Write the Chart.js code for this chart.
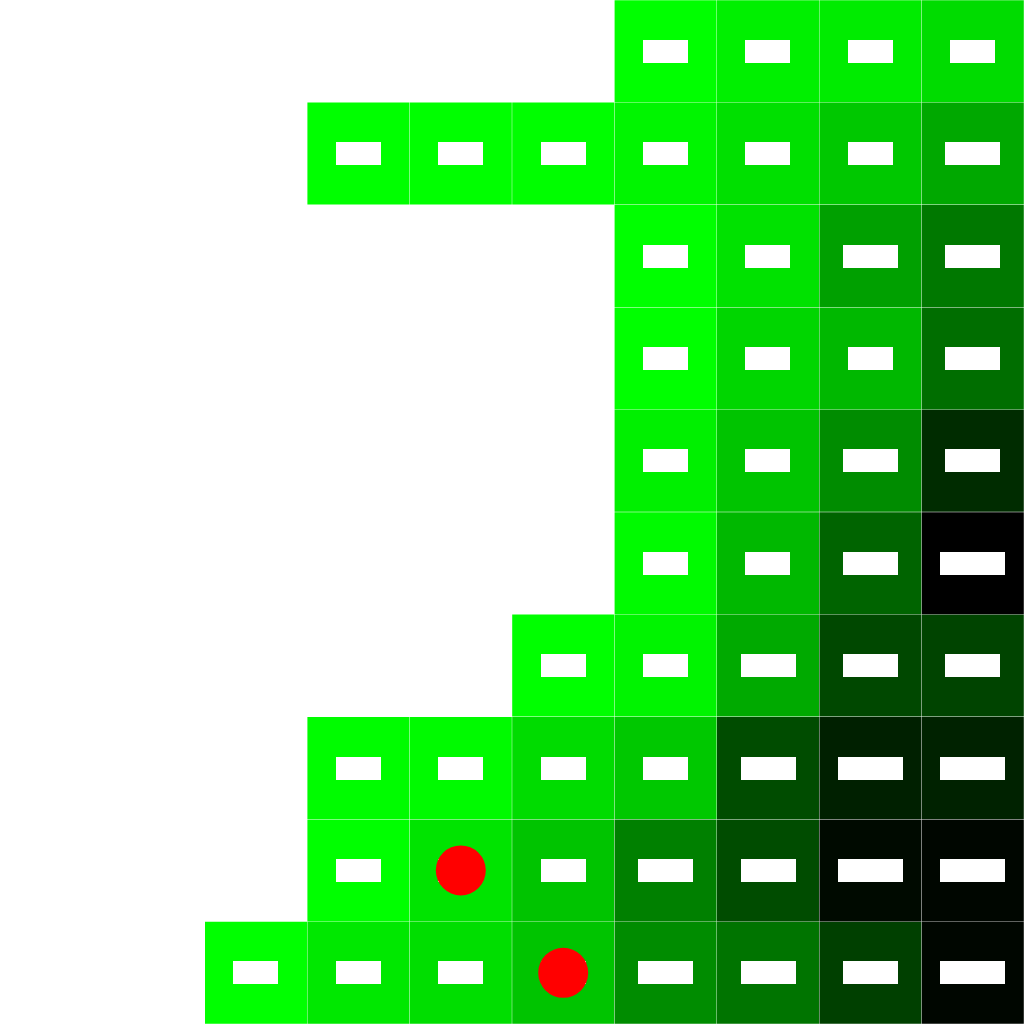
<!DOCTYPE html>
<html>
<head>
<meta charset="utf-8">
<script src="https://cdn.jsdelivr.net/npm/chart.js@4/dist/chart.umd.min.js"></script>
<style>
  html, body { margin: 0; padding: 0; background: #ffffff; }
  #wrap { width: 1024px; height: 1024px; position: relative; }
</style>
</head>
<body>
<div id="wrap"><canvas id="c"></canvas></div>
<script>
// ---- data ----
const columns = ['0', '1', '2', '3', '4', '5', '6', '7', '8', '9'];
const row0 = [null, null, null, null, null, null, 260, 335, 358, 469];
const row1 = [null, null, null, 260, 260, 265, 308, 438, 656, 1125];
const row2 = [null, null, null, null, null, null, 260, 424, 1285, 2522];
const row3 = [null, null, null, null, null, null, 260, 518, 859, 2985];
const row4 = [null, null, null, null, null, null, 335, 702, 1802, 9053];
const row5 = [null, null, null, null, null, null, 283, 859, 3531, 19000];
const row6 = [null, null, null, null, null, 260, 313, 1087, 5666, 6053];
const row7 = [null, null, null, 274, 283, 469, 656, 5286, 11100, 10720];
const row8 = [null, null, null, 260, 410, 702, 2205, 5286, 16070, 17180];
const row9 = [null, null, 260, 383, 455, 702, 1802, 2698, 6474, 17180];
const gridRows = [row0, row1, row2, row3, row4, row5, row6, row7, row8, row9];
const markerCols = ['4', '5'];
const markerRows = [8, 9];
const scaleMin = 260;
const scaleMax = 19000;

// ---- helpers ----
function colorFor(v) {
  const t = Math.log(v / scaleMin) / Math.log(scaleMax / scaleMin);
  const g = Math.round(255 * (1 - Math.min(1, Math.max(0, t))));
  return 'rgb(0,' + g + ',0)';
}

const datasets = gridRows.map((vals, r) => ({
  type: 'bar',
  label: 'row ' + r,
  data: vals.map(v => (v == null ? null : [r + 0.002, r + 0.998])),
  values: vals,
  backgroundColor: vals.map(v => (v == null ? 'rgba(0,0,0,0)' : colorFor(v))),
  borderWidth: 0,
  barPercentage: 0.996,
  categoryPercentage: 1,
  grouped: false,
  order: 1
}));

datasets.push({
  type: 'line',
  label: 'markers',
  data: markerCols.map((c, i) => ({ x: c, y: markerRows[i] + 0.5 })),
  showLine: false,
  pointRadius: 25,
  pointHoverRadius: 25,
  pointBackgroundColor: '#ff0000',
  pointBorderColor: '#ff0000',
  pointBorderWidth: 0,
  borderWidth: 0,
  clip: false,
  order: 0
});

const cellLabels = {
  id: 'cellLabels',
  afterDatasetDraw(chart, args) {
    const ds = chart.data.datasets[args.index];
    if (!ds.values) return;
    const ctx = chart.ctx;
    const meta = args.meta;
    ctx.save();
    ctx.font = 'bold 14px "DejaVu Sans"';
    ctx.textAlign = 'center';
    ctx.textBaseline = 'middle';
    meta.data.forEach((bar, i) => {
      const v = ds.values[i];
      if (v == null) return;
      const text = String(v);
      const w = ctx.measureText(text).width + 16;
      const h = 23;
      const cx = bar.x;
      const cy = (bar.y + bar.base) / 2;
      ctx.fillStyle = '#ffffff';
      ctx.fillRect(Math.round(cx - w / 2), Math.round(cy - h / 2), Math.round(w), h);
      ctx.fillStyle = '#ffffff';
      ctx.fillText(text, cx, cy);
    });
    ctx.restore();
  }
};

new Chart(document.getElementById('c'), {
  type: 'bar',
  data: { labels: columns, datasets: datasets },
  options: {
    responsive: true,
    maintainAspectRatio: false,
    devicePixelRatio: 1,
    animation: false,
    layout: { padding: 0, autoPadding: false },
    plugins: { legend: { display: false }, tooltip: { enabled: false } },
    scales: {
      x: { type: 'category', display: false, offset: true, grid: { display: false } },
      y: { type: 'linear', display: false, min: 0, max: 10, reverse: true, grid: { display: false } }
    }
  },
  plugins: [cellLabels]
});
</script>
</body>
</html>
